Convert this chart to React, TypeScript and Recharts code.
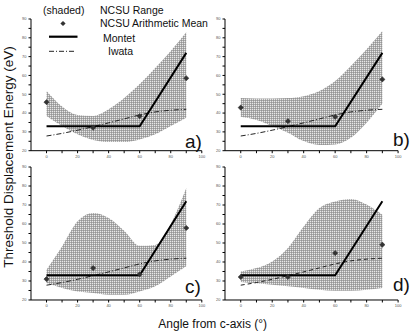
import React from 'react';
import { ComposedChart, Area, Line, XAxis, YAxis } from 'recharts';

// angles (deg from c-axis)
const bandAngles = [0, 10, 20, 30, 40, 50, 60, 70, 80, 90];
const meanAngles = [0, 30, 60, 90];
const montetAngles = [0, 60, 90];

// NCSU range (shaded band), lower / upper edges
const rangeLowA = [38.4, 33.1, 28.7, 25.7, 24.6, 24.6, 26, 28.7, 33.1, 37.5];
const rangeHighA = [51.7, 43.5, 39, 38.5, 42, 48, 55.5, 64, 73, 83];
const rangeLowB = [38, 36.3, 33.1, 29.6, 25.1, 23, 23.3, 26.9, 34.9, 45];
const rangeHighB = [48, 47.8, 47.8, 48, 49, 51.7, 57, 65, 73.9, 83.6];
const rangeLowC = [28.9, 26.3, 24.5, 23.7, 22.8, 22.8, 24.5, 27.2, 32.4, 37.7];
const rangeHighC = [35.9, 48.2, 61.4, 65.8, 63.2, 56.5, 48.5, 49, 60, 78.9];
const rangeLowD = [29.5, 28.8, 28, 27.2, 26.3, 25.4, 24.9, 24.9, 25.4, 26.3];
const rangeHighD = [35, 36.8, 40.3, 47.4, 58.7, 68.4, 71.9, 73.2, 70.2, 64.9];

// NCSU arithmetic mean
const meanA = [45.8, 32.2, 38.4, 58.5];
const meanB = [42.9, 35.7, 38, 57.9];
const meanC = [31, 36.8, 33.5, 57.9];
const meanD = [32.1, 32.1, 44.7, 49.1];

// models
const montetValues = [33, 33, 72];
const iwataValues = [27.8, 29.2, 30.9, 32.8, 34.8, 36.9, 39, 40.6, 41.5, 42];

const xTicks = [0, 10, 20, 30, 40, 50, 60, 70, 80, 90, 100];
const yTicks = [20, 25, 30, 35, 40, 45, 50, 55, 60, 65, 70, 75, 80, 85, 90];

const FONT = '"Liberation Sans", Arial, sans-serif';

function buildRows(low: number[], high: number[], mean: number[]) {
  return bandAngles.map((a, i) => {
    const mi = meanAngles.indexOf(a);
    const ti = montetAngles.indexOf(a);
    return {
      angle: a,
      range: [low[i], high[i]],
      iwata: iwataValues[i],
      montet: ti >= 0 ? montetValues[ti] : null,
      mean: mi >= 0 ? mean[mi] : null,
    };
  });
}

const MeanDot = (props: any) => {
  const { cx, cy, value, index } = props;
  if (value == null || cx == null || cy == null) return <g key={'m' + index} />;
  const r = 2.6;
  return (
    <path
      key={'m' + index}
      d={`M${cx},${cy - r} L${cx + r},${cy} L${cx},${cy + r} L${cx - r},${cy} Z`}
      fill="#333"
      stroke="#333"
      strokeWidth={0.6}
    />
  );
};

interface PanelProps {
  id: string;
  rows: any[];
  left: number;
  top: number;
  right: number;
  bottom: number;
  iwataDash: string;
}

function Panel({ id, rows, left, top, right, bottom, iwataDash }: PanelProps) {
  const yw = 20;
  const mt = 5;
  const xh = 12;
  const w = right - left + yw + 5;
  const h = bottom - top + mt + xh;
  return (
    <div style={{ position: 'absolute', left: left - yw, top: top - mt }}>
      <ComposedChart width={w} height={h} data={rows} margin={{ top: mt, right: 5, left: 0, bottom: 0 }}>
        <defs>
          <pattern id={'hatch' + id} width={2} height={2} patternUnits="userSpaceOnUse">
            <rect width={2} height={2} fill="#e8e8e8" />
            <path d="M0 0.5 H2 M0.5 0 V2" stroke="#8a8a8a" strokeWidth={0.65} />
          </pattern>
        </defs>
        <XAxis
          dataKey="angle"
          type="number"
          domain={[-10, 100]}
          ticks={xTicks}
          tickFormatter={(v: number) => (v % 20 === 0 ? String(v) : '')}
          tick={{ fontSize: 4, fill: '#555', fontFamily: FONT }}
          tickSize={2.5}
          height={xh}
          axisLine={{ stroke: '#000' }}
          tickLine={{ stroke: '#000' }}
          allowDataOverflow
        />
        <YAxis
          type="number"
          domain={[20, 90]}
          ticks={yTicks}
          tickFormatter={(v: number) => (v % 10 === 0 ? String(v) : '')}
          tick={{ fontSize: 4, fill: '#555', fontFamily: FONT }}
          tickSize={2.5}
          width={yw}
          axisLine={{ stroke: '#000' }}
          tickLine={{ stroke: '#000' }}
          allowDataOverflow
        />
        <Area
          dataKey="range"
          type="monotone"
          stroke="none"
          fill={`url(#hatch${id})`}
          fillOpacity={1}
          isAnimationActive={false}
          activeDot={false}
        />
        <Line
          dataKey="iwata"
          type="monotone"
          stroke="#222"
          strokeWidth={1}
          strokeDasharray={iwataDash}
          dot={false}
          activeDot={false}
          isAnimationActive={false}
        />
        <Line
          dataKey="montet"
          type="linear"
          stroke="#000"
          strokeWidth={2}
          connectNulls
          dot={false}
          activeDot={false}
          isAnimationActive={false}
        />
        <Line
          dataKey="mean"
          stroke="none"
          dot={MeanDot}
          activeDot={false}
          isAnimationActive={false}
        />
      </ComposedChart>
    </div>
  );
}

const DASH_DOT = '5 2 1 2';
const DASHED = '4 3';

export default function App() {
  const rowsA = buildRows(rangeLowA, rangeHighA, meanA);
  const rowsB = buildRows(rangeLowB, rangeHighB, meanB);
  const rowsC = buildRows(rangeLowC, rangeHighC, meanC);
  const rowsD = buildRows(rangeLowD, rangeHighD, meanD);
  return (
    <div style={{ position: 'absolute', left: 0, top: 0, width: 412, height: 334, background: '#fff', overflow: 'hidden' }}>
      <Panel id="a" rows={rowsA} left={30.7} top={19.3} right={201.5} bottom={151} iwataDash={DASH_DOT} />
      <Panel id="b" rows={rowsB} left={224.6} top={19.3} right={397.7} bottom={151} iwataDash={DASH_DOT} />
      <Panel id="c" rows={rowsC} left={30.7} top={167.3} right={201.5} bottom={300.3} iwataDash={DASH_DOT} />
      <Panel id="d" rows={rowsD} left={224.6} top={167.3} right={397.7} bottom={300.3} iwataDash={DASHED} />
      <svg width={412} height={334} style={{ position: 'absolute', left: 0, top: 0, pointerEvents: 'none' }}>
        <g fontFamily={FONT} fill="#111">
          <text x={43} y={13.5} fontSize={10.5}>(shaded)</text>
          <text x={100} y={13.5} fontSize={10.5}>NCSU Range</text>
          <path d="M63 20.9 L65.6 23.5 L63 26.1 L60.4 23.5 Z" fill="#333" />
          <text x={100} y={27.3} fontSize={10.5}>NCSU Arithmetic Mean</text>
          <line x1={49} y1={36.7} x2={77.5} y2={36.7} stroke="#000" strokeWidth={2.2} />
          <text x={103} y={41.5} fontSize={10.5}>Montet</text>
          <line x1={49} y1={51.3} x2={76} y2={51.3} stroke="#222" strokeWidth={1} strokeDasharray={DASH_DOT} />
          <text x={108} y={55} fontSize={10.5}>Iwata</text>

          <text x={185} y={148} fontSize={19}>a)</text>
          <text x={393} y={146} fontSize={19}>b)</text>
          <text x={185} y={293} fontSize={19}>c)</text>
          <text x={393} y={291} fontSize={19}>d)</text>

          <text x={158.3} y={327.6} fontSize={12}>Angle from c-axis (°)</text>
          <text x={13} y={157} fontSize={13.5} textAnchor="middle" transform="rotate(-90 13 157)">
            Threshold Displacement Energy (eV)
          </text>
        </g>
      </svg>
    </div>
  );
}
